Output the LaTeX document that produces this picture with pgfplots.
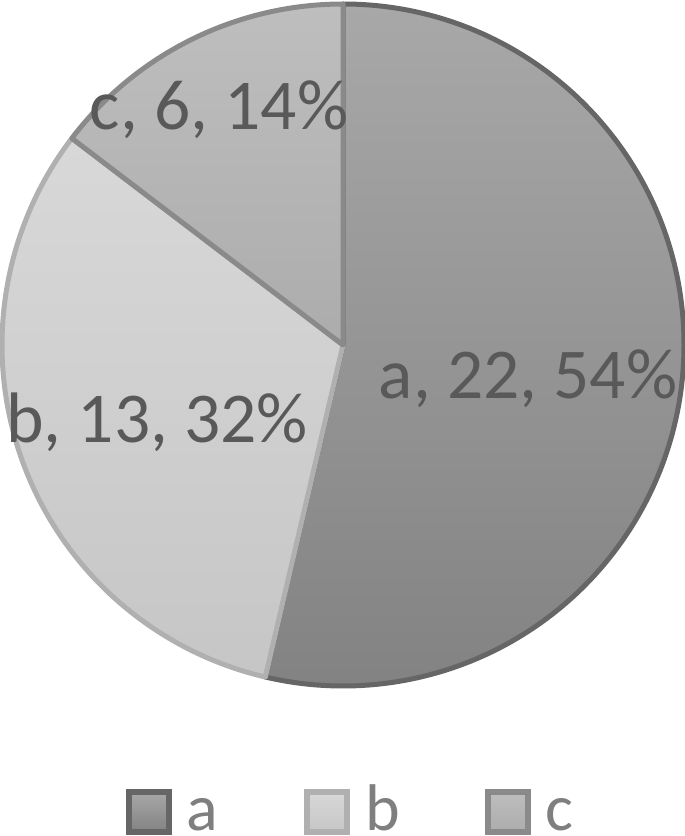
\documentclass[border=0pt]{standalone}
\usepackage{pgfplots}
\pgfplotsset{compat=1.18}
\usepackage{pgfplotstable}
\usepackage{fontspec}
\setmainfont{Carlito}
\definecolor{atop}{HTML}{A8A8A8}
\definecolor{abot}{HTML}{828282}
\definecolor{aline}{HTML}{666666}
\definecolor{btop}{HTML}{D8D8D8}
\definecolor{bbot}{HTML}{C6C6C6}
\definecolor{bline}{HTML}{B0B0B0}
\definecolor{ctop}{HTML}{BEBEBE}
\definecolor{cbot}{HTML}{ACACAC}
\definecolor{cline}{HTML}{8A8A8A}
\definecolor{lbl}{HTML}{595959}
\definecolor{leg}{HTML}{7F7F7F}
\pgfplotstableread{
label value pct
a 22 54
b 13 32
c 6 14
}\piedata
\pgfplotstablegetelem{0}{value}\of\piedata \let\va\pgfplotsretval
\pgfplotstablegetelem{1}{value}\of\piedata \let\vb\pgfplotsretval
\pgfplotstablegetelem{2}{value}\of\piedata \let\vc\pgfplotsretval
\pgfplotstablegetelem{0}{pct}\of\piedata \let\pA\pgfplotsretval
\pgfplotstablegetelem{1}{pct}\of\piedata \let\pB\pgfplotsretval
\pgfplotstablegetelem{2}{pct}\of\piedata \let\pC\pgfplotsretval
\pgfmathsetmacro\tot{\va+\vb+\vc}
\pgfmathsetmacro\angA{90-360*\va/\tot}
\pgfmathsetmacro\angB{\angA-360*\vb/\tot}
\pgfmathsetmacro\angC{\angB-360*\vc/\tot}
\begin{document}
\begin{tikzpicture}
\useasboundingbox (0,-151pt) rectangle (685pt,685pt);
\begin{axis}[at={(0,0)},anchor=south west,scale only axis,
  width=685pt,height=685pt,
  xmin=-343,xmax=342,ymin=-340,ymax=345,
  hide axis,clip=false]
\addplot[draw=none] coordinates {(0,0)};
\fill[top color=atop,bottom color=abot,draw=aline,line width=5pt,line join=round]
  (axis cs:0,0) -- ++(90:341pt) arc[start angle=90,end angle=\angA,radius=341pt] -- cycle;
\fill[top color=btop,bottom color=bbot,draw=bline,line width=5pt,line join=round]
  (axis cs:0,0) -- ++(\angA:341pt) arc[start angle=\angA,end angle=\angB,radius=341pt] -- cycle;
\fill[top color=ctop,bottom color=cbot,draw=cline,line width=5pt,line join=round]
  (axis cs:0,0) -- ++(\angB:341pt) arc[start angle=\angB,end angle=\angC,radius=341pt] -- cycle;
\node[text=lbl,font=\fontsize{71.5}{80}\selectfont,anchor=base] at (axis cs:185,-53) {a, \va, \pA\%};
\node[text=lbl,font=\fontsize{71.5}{80}\selectfont,anchor=base] at (axis cs:-186,-97) {b, \vb, \pB\%};
\node[text=lbl,font=\fontsize{71.5}{80}\selectfont,anchor=base] at (axis cs:-124,215) {c, \vc, \pC\%};
% legend
\fill[top color=atop,bottom color=abot,draw=aline,line width=6pt] (axis cs:-214,-487) rectangle (axis cs:-174,-447);
\fill[top color=btop,bottom color=bbot,draw=bline,line width=6pt] (axis cs:-36,-487) rectangle (axis cs:4,-447);
\fill[top color=ctop,bottom color=cbot,draw=cline,line width=6pt] (axis cs:145,-487) rectangle (axis cs:185,-447);
\node[text=leg,font=\fontsize{66}{70}\selectfont,anchor=base,inner sep=0pt] at (axis cs:-141,-485) {a};
\node[text=leg,font=\fontsize{66}{70}\selectfont,anchor=base,inner sep=0pt] at (axis cs:40,-485) {b};
\node[text=leg,font=\fontsize{66}{70}\selectfont,anchor=base,inner sep=0pt] at (axis cs:216,-485) {c};
\end{axis}
\end{tikzpicture}
\end{document}
